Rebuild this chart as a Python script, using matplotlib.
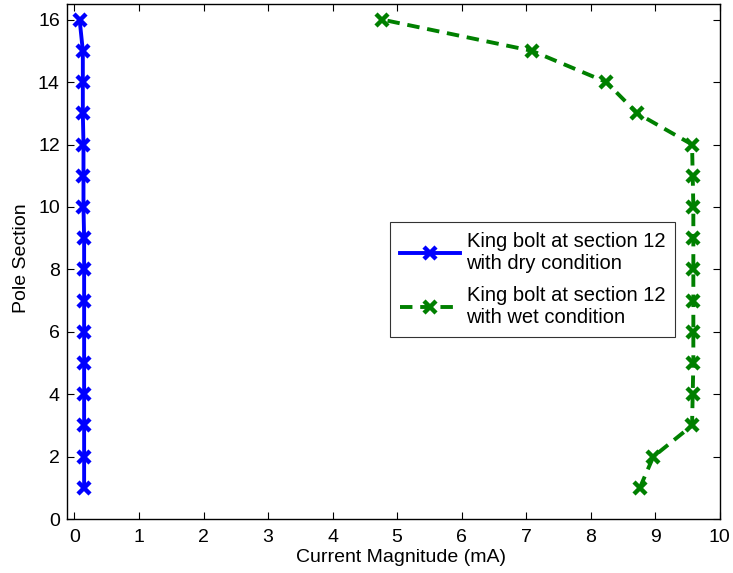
import matplotlib
matplotlib.use("Agg")
import matplotlib.pyplot as plt

plt.rcParams['font.family'] = ['Liberation Sans', 'DejaVu Sans']

sections = [1, 2, 3, 4, 5, 6, 7, 8, 9, 10, 11, 12, 13, 14, 15, 16]
dry_current = [0.15, 0.15, 0.15, 0.15, 0.15, 0.15, 0.15, 0.15, 0.15,
               0.14, 0.14, 0.14, 0.13, 0.13, 0.13, 0.08]
wet_current = [8.76, 8.97, 9.57, 9.58, 9.59, 9.59, 9.59, 9.59, 9.59,
               9.59, 9.58, 9.57, 8.72, 8.24, 7.09, 4.77]

dry_label = "King bolt at section 12\nwith dry condition"
wet_label = "King bolt at section 12\nwith wet condition"

fig = plt.figure(figsize=(7.33, 5.73), dpi=100)
ax = fig.add_axes([0.091, 0.094, 0.891, 0.899])

ax.plot(dry_current, sections, color='#0000ff', linewidth=2.8, linestyle='-',
        marker='x', markersize=8, markeredgewidth=3.2, label=dry_label)
ax.plot(wet_current, sections, color='#008000', linewidth=2.8, linestyle=(0, (3.2, 2.0)),
        marker='x', markersize=8, markeredgewidth=3.2, label=wet_label)

ax.set_xlim(-0.12, 10)
ax.set_ylim(0, 16.5)
ax.set_xticks(range(0, 11))
ax.set_yticks(range(0, 17, 2))
ax.tick_params(direction='in', top=True, right=True, labelsize=14, length=5, width=0.8)
ax.tick_params(axis='x', pad=7)
ax.tick_params(axis='y', pad=5)
for s in ax.spines.values():
    s.set_linewidth(1.0)

ax.set_xlabel("Current Magnitude (mA)", fontsize=14, labelpad=4)
ax.set_ylabel("Pole Section", fontsize=14, labelpad=5)
ax.xaxis.set_label_coords(0.512, -0.058)
ax.yaxis.set_label_coords(-0.056, 0.507)

leg = ax.legend(loc='upper left', bbox_to_anchor=(0.495, 0.577), fontsize=14.5,
                frameon=True, fancybox=False, edgecolor='black', borderaxespad=0,
                handlelength=3.0, handletextpad=0.3, labelspacing=0.65,
                borderpad=0.5)
leg.get_frame().set_linewidth(0.8)

fig.savefig("out.png", dpi=100)
